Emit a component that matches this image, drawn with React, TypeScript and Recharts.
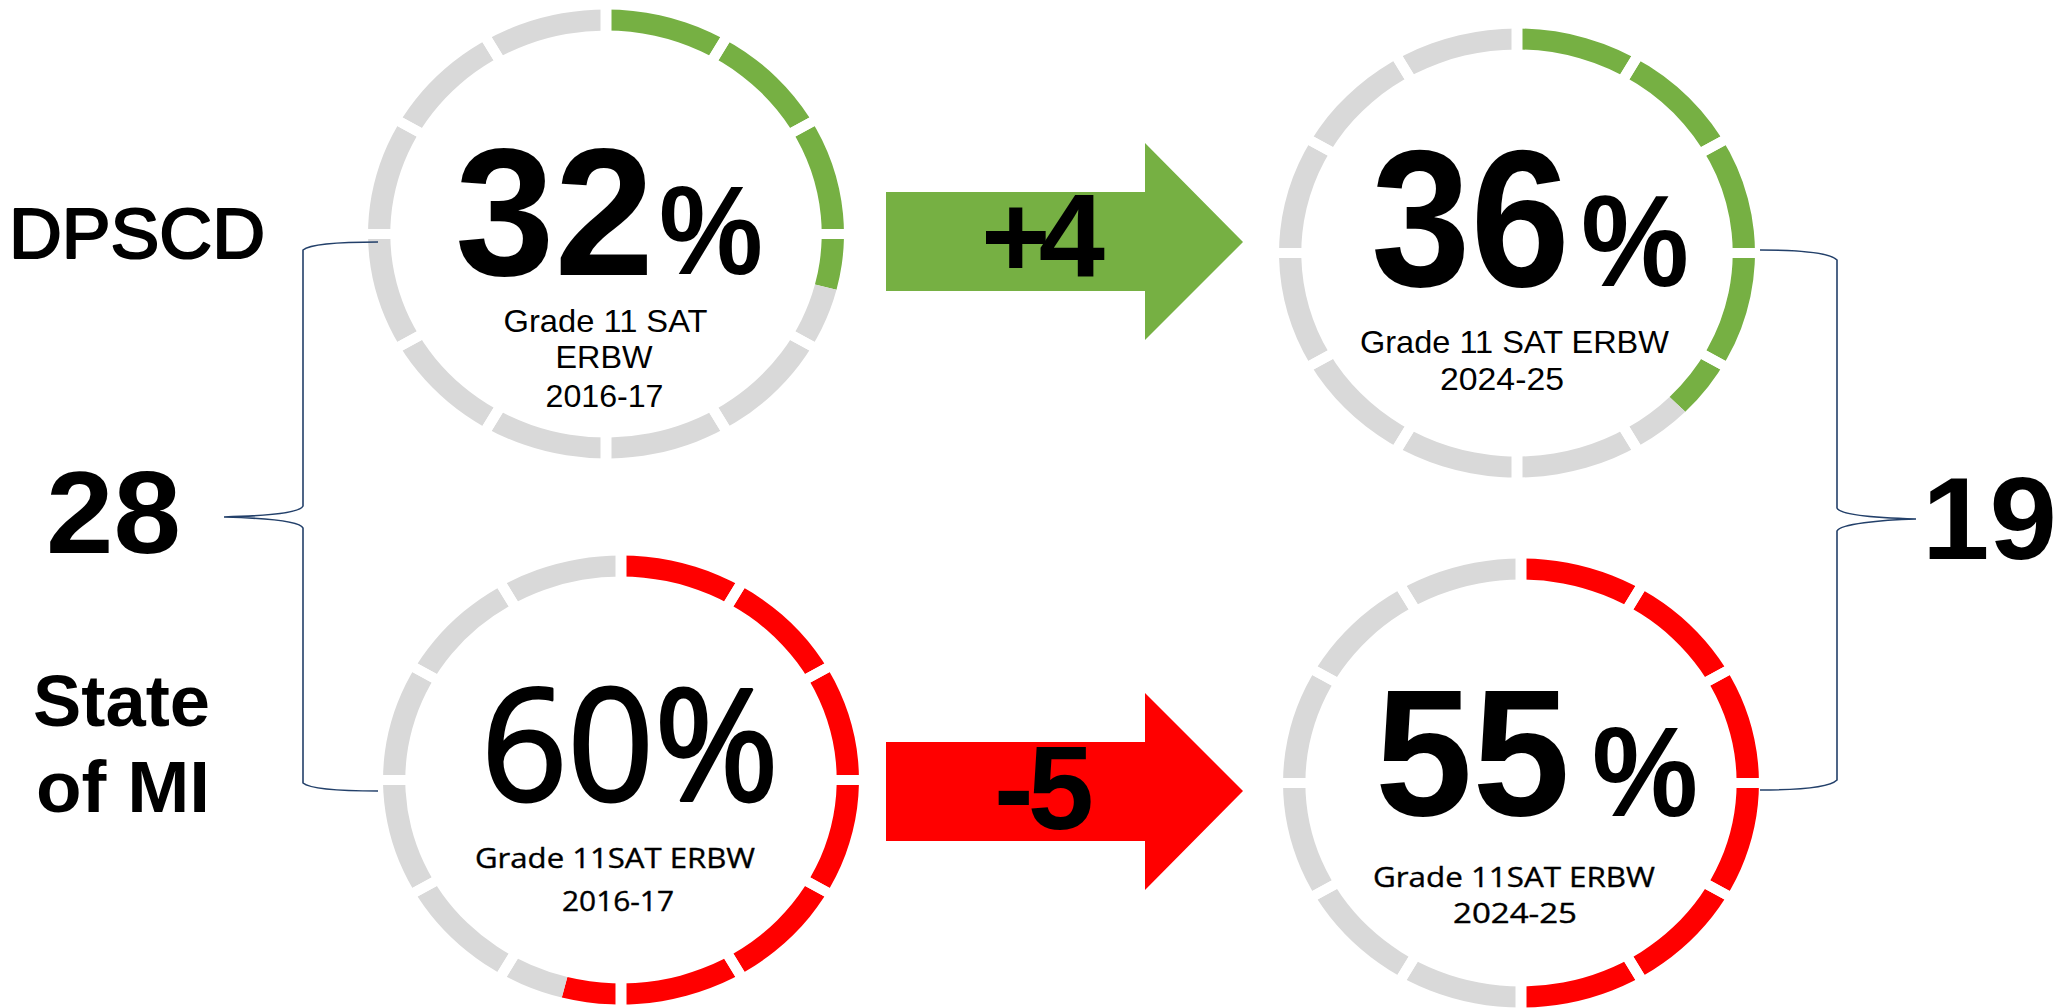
import React from 'react';
import { PieChart, Pie, Cell } from 'recharts';

// ---------- data ----------
const ringNames = ['DPSCD 2016-17', 'DPSCD 2024-25', 'State of MI 2016-17', 'State of MI 2024-25'];
const percentLabels = ['32', '36', '60', '55'];
// share of each ring that is coloured, as drawn in the picture
const arcFill = [29, 37.5, 54, 50];
const ringColors = ['#76B043', '#76B043', '#FF0000', '#FF0000'];
const ringSegments = [1, 1, 1, 1, 1, 1, 1, 1, 1, 1, 1, 1];
const changeLabels = ['+4', '-5'];
const gapLabels = ['28', '19'];
const groupLabels = ['DPSCD', 'State', 'of MI'];
const subtitleLines = [
  ['Grade 11 SAT', 'ERBW', '2016-17'],
  ['Grade 11 SAT ERBW', '2024-25'],
  ['Grade 11SAT ERBW', '2016-17'],
  ['Grade 11SAT ERBW', '2024-25'],
];

// ---------- layout ----------
const W = 2064;
const H = 1008;
const BOX = 480;
const ringCenters = [
  [605.5, 233.5],
  [1517, 253],
  [621, 779.5],
  [1521, 783],
];
const STRETCH = 1.06;
const OUTER = 224.5;
const INNER = 203.5;
const GREY = '#D9D9D9';
const ARIAL = '"Liberation Sans", Arial, sans-serif';
const SEGOE = '"Open Sans", "Noto Sans", sans-serif';
const BRACKET = '#23406A';

function Ring({ idx }: { idx: number }) {
  const [cx, cy] = ringCenters[idx];
  const valueData = [
    { name: ringNames[idx], value: arcFill[idx] },
    { name: 'rest', value: 100 - arcFill[idx] },
  ];
  const segData = ringSegments.map((v, i) => ({ name: `seg${i}`, value: v }));
  return (
    <div
      style={{
        position: 'absolute',
        left: cx - BOX / 2,
        top: cy - BOX / 2,
        width: BOX,
        height: BOX,
        transform: `scaleX(${STRETCH})`,
        transformOrigin: '50% 50%',
      }}
    >
      <PieChart width={BOX} height={BOX} margin={{ top: 0, right: 0, bottom: 0, left: 0 }}>
        <Pie
          data={valueData}
          dataKey="value"
          cx={BOX / 2}
          cy={BOX / 2}
          innerRadius={INNER}
          outerRadius={OUTER}
          startAngle={90}
          endAngle={-270}
          stroke="none"
          isAnimationActive={false}
        >
          <Cell fill={ringColors[idx]} />
          <Cell fill={GREY} />
        </Pie>
        <Pie
          data={segData}
          dataKey="value"
          cx={BOX / 2}
          cy={BOX / 2}
          innerRadius={INNER - 9}
          outerRadius={OUTER + 9}
          startAngle={90}
          endAngle={-270}
          fill="none"
          stroke="#ffffff"
          strokeWidth={10}
          isAnimationActive={false}
        >
          {segData.map((d) => (
            <Cell key={d.name} fill="none" stroke="#ffffff" strokeWidth={10} />
          ))}
        </Pie>
      </PieChart>
    </div>
  );
}

type TProps = {
  x: number;
  y: number;
  fs: number;
  w?: number;
  bold?: boolean;
  family?: string;
  adjust?: 'spacing' | 'spacingAndGlyphs';
  thick?: number;
  children: string;
};
function T({ x, y, fs, w, bold, family, adjust, thick, children }: TProps) {
  const extra: any = {};
  if (w) {
    extra.textLength = w;
    extra.lengthAdjust = adjust || 'spacingAndGlyphs';
  }
  if (thick) {
    extra.stroke = '#000';
    extra.strokeWidth = thick;
    extra.strokeLinejoin = 'round';
  }
  return (
    <text
      x={x}
      y={y}
      fontSize={fs}
      fontFamily={family || ARIAL}
      fontWeight={bold ? 700 : 400}
      fill="#000"
      {...extra}
    >
      {children}
    </text>
  );
}

export default function App() {
  return (
    <div
      style={{
        position: 'fixed',
        left: 0,
        top: 0,
        width: W,
        height: H,
        overflow: 'hidden',
        background: '#fff',
      }}
    >
      {[0, 1, 2, 3].map((i) => (
        <Ring key={i} idx={i} />
      ))}
      <svg
        width={W}
        height={H}
        style={{ position: 'absolute', left: 0, top: 0, pointerEvents: 'none' }}
      >
        {/* arrows */}
        <polygon points="886,192 1145,192 1145,143 1243,242 1145,340 1145,291 886,291" fill={ringColors[0]} />
        <polygon points="886,742 1145,742 1145,693 1243,791 1145,890 1145,841 886,841" fill={ringColors[2]} />

        {/* brackets */}
        <path
          d="M 378 242 C 340 242, 310 244, 303 250 L 303 506 C 300 513, 262 516, 224 517 C 262 518, 300 521, 303 528 L 303 783 C 310 789, 340 791, 378 791"
          fill="none"
          stroke={BRACKET}
          strokeWidth={1.6}
        />
        <path
          d="M 1760 250 C 1800 250, 1830 253, 1837 260 L 1837 508 C 1840 515, 1880 518, 1916 519 C 1880 520, 1840 524, 1837 531 L 1837 780 C 1830 787, 1800 790, 1760 790"
          fill="none"
          stroke={BRACKET}
          strokeWidth={1.6}
        />

        {/* left labels */}
        <T x={9} y={258} fs={71} w={256} thick={2.2}>{groupLabels[0]}</T>
        <T x={46} y={553} fs={116} w={135} bold>{gapLabels[0]}</T>
        <T x={33} y={726} fs={72} w={177} bold>{groupLabels[1]}</T>
        <T x={36} y={812} fs={72} w={174} bold>{groupLabels[2]}</T>
        <T x={1922} y={559} fs={116} w={135} bold>{gapLabels[1]}</T>

        {/* arrow labels */}
        <T x={981} y={277} fs={119} w={124} bold adjust="spacing">{changeLabels[0]}</T>
        <T x={994} y={829} fs={119} w={100} bold adjust="spacing">{changeLabels[1]}</T>

        {/* ring 1 */}
        <T x={455} y={275} fs={182} w={199} bold>{percentLabels[0]}</T>
        <T x={659} y={274} fs={126} w={104} bold>%</T>
        <T x={503.5} y={332} fs={31.5} w={204}>{subtitleLines[0][0]}</T>
        <T x={555.5} y={368} fs={31.5} w={97}>{subtitleLines[0][1]}</T>
        <T x={545.5} y={406.7} fs={31.5} w={118}>{subtitleLines[0][2]}</T>

        {/* ring 2 */}
        <T x={1371} y={286} fs={195} w={199} bold>{percentLabels[1]}</T>
        <T x={1581} y={286} fs={129} w={108} bold>%</T>
        <T x={1360} y={353} fs={32} w={309}>{subtitleLines[1][0]}</T>
        <T x={1440} y={390} fs={32} w={124}>{subtitleLines[1][1]}</T>

        {/* ring 3 */}
        <T x={481} y={800} fs={155} w={298} family={SEGOE} thick={3}>{percentLabels[2] + '%'}</T>
        <T x={475} y={868} fs={28} w={280} family={SEGOE} thick={0.4}>{subtitleLines[2][0]}</T>
        <T x={562} y={911} fs={28} w={112} family={SEGOE} thick={0.4}>{subtitleLines[2][1]}</T>

        {/* ring 4 */}
        <T x={1375} y={815} fs={180} w={195} bold>{percentLabels[3]}</T>
        <T x={1592} y={816} fs={128} w={106} bold>%</T>
        <T x={1373} y={887} fs={28} w={282} family={SEGOE} thick={0.4}>{subtitleLines[3][0]}</T>
        <T x={1453} y={923} fs={28} w={124} family={SEGOE} thick={0.4}>{subtitleLines[3][1]}</T>
      </svg>
    </div>
  );
}
